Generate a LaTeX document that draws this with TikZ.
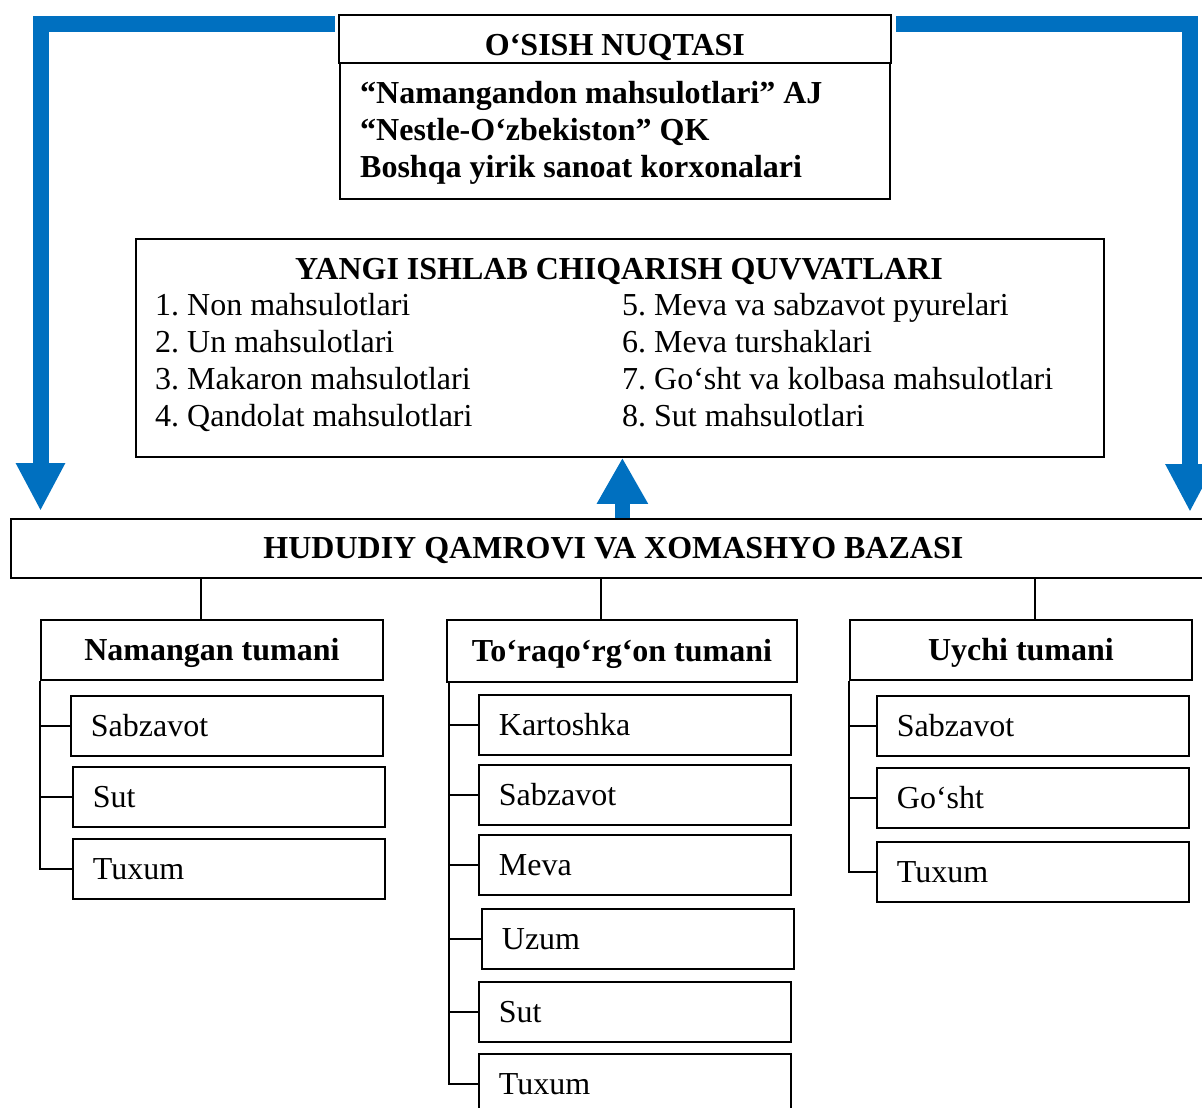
\documentclass[tikz,border=0pt]{standalone}
\usepackage{fontspec}
\setmainfont{Liberation Serif}
\usetikzlibrary{arrows.meta}
\usetikzlibrary{positioning}
\definecolor{flowblue}{RGB}{0,112,192}
\frenchspacing

\begin{document}
\begin{tikzpicture}[line cap=butt,line join=miter,x=1pt,y=-1pt]
\tikzstyle{txt}=[inner sep=0pt,font=\fontsize{32}{37}\selectfont]
\tikzstyle{btxt}=[inner sep=0pt,font=\fontsize{32}{37}\selectfont\bfseries]
\tikzstyle{box}=[draw,line width=1.8pt,inner sep=0pt,text height=21pt,text depth=0pt,anchor=north west]
\tikzstyle{distbox}=[box,btxt,minimum height=60pt]
\tikzstyle{itembox}=[box,txt,minimum height=60pt,inner xsep=20pt,text width=272pt,align=left]
\tikzstyle{conn}=[line width=1.8pt]
\tikzstyle{flow}=[draw=flowblue,line width=16pt,-{Triangle[width=46pt,length=48pt]}]
\useasboundingbox (0,0) rectangle (1202,1108);
\clip (0,0) rectangle (1202,1108);
% top block
\node[box,btxt,minimum width=552pt,minimum height=48pt,text height=34pt] (osish) at (338,14) {O‘SISH NUQTASI};
\node[box,minimum width=550pt,minimum height=136pt] (osishlist) at (339,62) {};
\foreach \t [count=\i] in {“Namangandon mahsulotlari” AJ,“Nestle-O‘zbekiston” QK,Boshqa yirik sanoat korxonalari}
  \node[btxt,anchor=base west] (os\i) at (360,66+37*\i) {\t};
% new capacities
\node[box,minimum width=968pt,minimum height=218pt] (yangi) at (135,238) {};
\node[btxt,anchor=base] (yangititle) at (619,279) {YANGI ISHLAB CHIQARISH QUVVATLARI};
\foreach \t [count=\i] in {1. Non mahsulotlari,2. Un mahsulotlari,3. Makaron mahsulotlari,4. Qandolat mahsulotlari}
  \node[txt,anchor=base west] (ya\i) at (155,278+37*\i) {\t};
\foreach \t [count=\i from 5] in {5. Meva va sabzavot pyurelari,6. Meva turshaklari,7. Go‘sht va kolbasa mahsulotlari,8. Sut mahsulotlari}
  \node[txt,anchor=base west] (ya\i) at (622,130+37*\i) {\t};
% raw material base
\node[box,btxt,minimum width=1205pt,minimum height=59pt] (hud) at (10,518) {HUDUDIY QAMROVI VA XOMASHYO BAZASI};
% districts
\node[distbox,minimum width=342pt] (nam) at (40,619) {Namangan tumani};
\node[distbox,minimum width=350pt,minimum height=62pt] (tor) at (446,619) {To‘raqo‘rg‘on tumani};
\node[distbox,minimum width=342pt] (uy) at (849,619) {Uychi tumani};
\node[itembox] (n1) at (70,695) {Sabzavot};
\node[itembox] (n2) at (72,766) {Sut};
\node[itembox] (n3) at (72,838) {Tuxum};
\node[itembox] (t1) at (478,694) {Kartoshka};
\node[itembox] (t2) at (478,764) {Sabzavot};
\node[itembox] (t3) at (478,834) {Meva};
\node[itembox] (t4) at (481,908) {Uzum};
\node[itembox] (t5) at (478,981) {Sut};
\node[itembox] (t6) at (478,1053) {Tuxum};
\node[itembox] (u1) at (876,695) {Sabzavot};
\node[itembox] (u2) at (876,767) {Go‘sht};
\node[itembox] (u3) at (876,841) {Tuxum};
% connectors
\draw[conn] ([xshift=-11pt]nam.north) -- ([xshift=-11pt]nam.north |- hud.south);
\draw[conn] ([xshift=-21pt]tor.north) -- ([xshift=-21pt]tor.north |- hud.south);
\draw[conn] ([xshift=14pt]uy.north) -- ([xshift=14pt]uy.north |- hud.south);
\foreach \k in {1,2,3}
  \draw[conn] (nam.south west) |- (n\k.west);
\foreach \k in {1,...,6}
  \draw[conn] ([xshift=3pt]tor.south west) |- (t\k.west);
\foreach \k in {1,2,3}
  \draw[conn] (uy.south west) |- (u\k.west);
% blue arrows
\coordinate (lstart) at ([shift={(-3,10.5)}]osish.north west);
\coordinate (rstart) at ([shift={(4,10.5)}]osish.north east);
\draw[flow,shorten >=7pt] (lstart) -| ([xshift=30.5pt]hud.north west);
\draw[flow,shorten >=6pt] (rstart) -| ([xshift=1180pt]hud.north west);
\draw[flow,line width=15pt,-{Triangle[width=48pt,length=46pt]}] ([xshift=9pt]hud.north) -- ([xshift=9pt]hud.north |- yangi.south);
\end{tikzpicture}
\end{document}
